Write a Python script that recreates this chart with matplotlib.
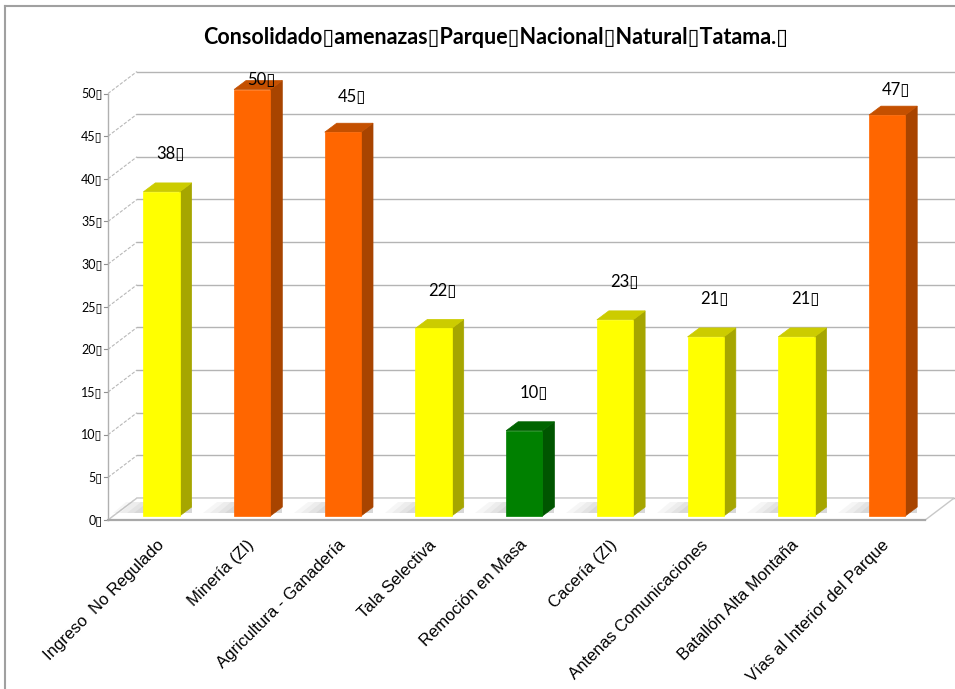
# Consolidado amenazas - Parque Nacional Natural Tatama (pseudo-3D column chart)

import matplotlib
matplotlib.use("Agg")
import matplotlib.pyplot as plt
from matplotlib.patches import Polygon
from matplotlib.lines import Line2D

# data
categories = ["Ingreso  No Regulado", "Minería (ZI)", "Agricultura - Ganadería",
              "Tala Selectiva", "Remoción en Masa", "Cacería (ZI)",
              "Antenas Comunicaciones", "Batallón Alta Montaña",
              "Vías al Interior del Parque"]
values = [38, 50, 45, 22, 10, 23, 21, 21, 47]
levels = ["medio", "alto", "alto", "medio", "bajo", "medio", "medio", "medio", "alto"]
yticks = [0, 5, 10, 15, 20, 25, 30, 35, 40, 45, 50]
title = "Consolidado▯amenazas▯Parque▯Nacional▯Natural▯Tatama.▯"

# colours: (front, top, side)
palette = {
    "medio": ("#FFFF00", "#CCCC00", "#A6A600"),
    "alto": ("#FF6600", "#C45000", "#A84400"),
    "bajo": ("#008000", "#006400", "#005500"),
}
num_font = ["Lato", "DejaVu Sans"]

W, H = 955, 689
fig = plt.figure(figsize=(W / 100, H / 100), dpi=100)
fig.patch.set_facecolor("white")

# axes placed so data units map onto the reference layout
ax = fig.add_axes([0.0, 1 - 530 / H, 1.0, (530 - 60) / H])
px_per_cat, x0 = 90.7, 161.5
ax.set_xlim((0 - x0) / px_per_cat, (W - x0) / px_per_cat)
ax.set_ylim((516 - 530) / 8.53, 516 / 8.53 - 60 / 8.53)
ax.axis("off")

# wall / floor geometry (data units)
fx, fy = -0.59, -0.47          # front-left corner of floor
ddx, ddy = 0.32, 2.58          # full depth vector
right_front = 8.42
wall_right = right_front + ddx
ymax = 50

grid_c = "#b4b4b4"
# floor
floor = Polygon([(fx, fy), (right_front, fy), (right_front + ddx, fy + ddy), (fx + ddx, fy + ddy)],
                closed=True, facecolor="white", edgecolor="#c8c8c8", lw=1.0, zorder=1)
ax.add_patch(floor)
ax.plot([fx, right_front], [fy, fy], color="#a8a8a8", lw=1.6, zorder=1.2)

# back wall gridlines and side wall lines
for t in yticks:
    ax.plot([fx + ddx, wall_right], [t + fy + ddy, t + fy + ddy], color=grid_c, lw=1.0, zorder=0.5)
    ax.plot([fx, fx + ddx], [t + fy, t + fy + ddy], color="#b8b8b8", lw=0.8, ls=(0, (3, 1.5)), zorder=0.5)
    ax.plot([fx - 0.04, fx], [t + fy, t + fy], color="#909090", lw=0.8, zorder=0.5)
    ax.text(fx - 0.06, t + fy, f"{t}▯", ha="right", va="center", fontsize=9,
            family=num_font, color="#000000")
ax.plot([fx, fx], [fy, ymax + fy], color="#b0b0b0", lw=1.0, zorder=0.6)

# bars
hw = 0.2                       # half width of front face
bdx, bdy = 0.132, 1.05         # bar depth offset
for i, (v, lev) in enumerate(zip(values, levels)):
    front, top, side = palette[lev]
    # soft shadow on the floor, behind and to the left of the bar
    for s, a in [(0.34, 0.05), (0.26, 0.06), (0.18, 0.07), (0.10, 0.08)]:
        sh = Polygon([(i - hw - s, 0.3), (i + hw + bdx, 0.3), (i + hw + bdx, 1.6), (i - hw - s + 0.15, 1.6)],
                     closed=True, facecolor="#606060", alpha=a, lw=0, zorder=1.5)
        ax.add_patch(sh)
    ax.add_patch(Polygon([(i + hw, 0), (i + hw + bdx, bdy), (i + hw + bdx, v + bdy), (i + hw, v)],
                         closed=True, facecolor=side, edgecolor=side, lw=0.5, zorder=3))
    ax.add_patch(Polygon([(i - hw, v), (i + hw, v), (i + hw + bdx, v + bdy), (i - hw + bdx, v + bdy)],
                         closed=True, facecolor=top, edgecolor=top, lw=0.5, zorder=3))
    ax.add_patch(Polygon([(i - hw, 0), (i + hw, 0), (i + hw, v), (i - hw, v)],
                         closed=True, facecolor=front, edgecolor=front, lw=0.5, zorder=3))
    ly = v + 4.4
    if ly > 49:
        ly = 49 + (ly - 49) * 0.4
    ax.text(i + 0.1, ly, f"{v}▯", ha="center", va="center",
            fontsize=12, family=num_font, color="#000000", zorder=4)
    ax.text(i + 0.0, -3.1, categories[i], rotation=45, rotation_mode="anchor",
            ha="right", va="center", fontsize=12, family="Liberation Sans",
            color="#000000", clip_on=False)

# title
fig.text(0.519, 1 - 38 / H, title, ha="center", va="center", fontsize=15.5,
         fontweight="bold", family=num_font)

# outer frame (top and left edge visible in the reference)
fig.add_artist(Line2D([5 / W, 1.0], [1 - 6 / H, 1 - 6 / H], transform=fig.transFigure,
                      color="#a0a0a0", lw=1.5))
fig.add_artist(Line2D([5 / W, 5 / W], [0, 1 - 6 / H], transform=fig.transFigure,
                      color="#a0a0a0", lw=1.5))

fig.savefig("out.png", dpi=100, facecolor="white")
